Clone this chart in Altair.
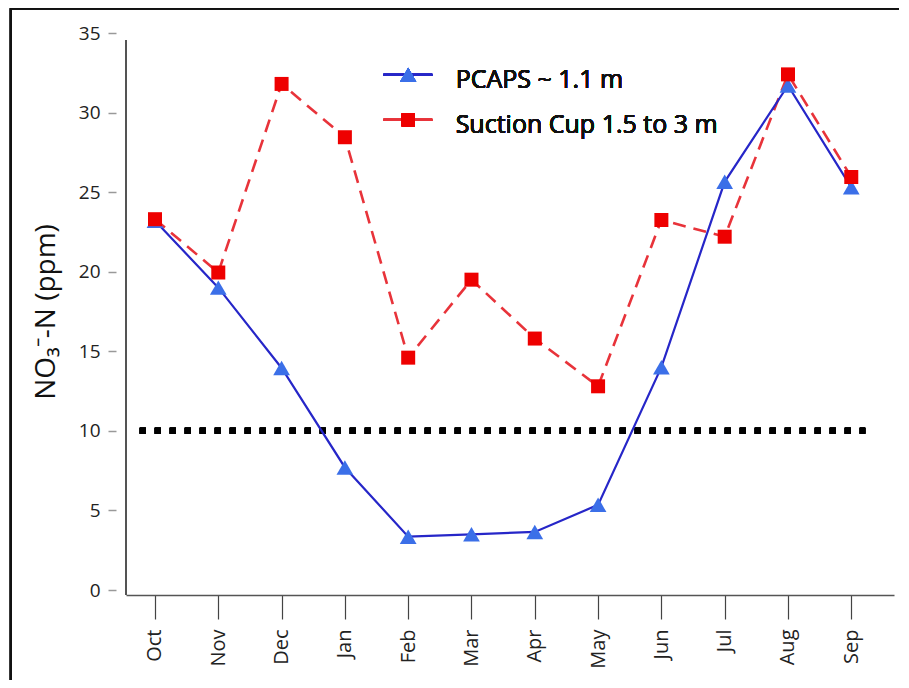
import altair as alt
import pandas as pd

# ---------------- data ----------------
months = ["Oct", "Nov", "Dec", "Jan", "Feb", "Mar", "Apr", "May", "Jun", "Jul", "Aug", "Sep"]
pcaps = [23.2, 19.0, 13.95, 7.7, 3.35, 3.5, 3.65, 5.35, 14.0, 25.65, 31.7, 25.3]
suction = [23.3, 19.95, 31.8, 28.45, 14.6, 19.5, 15.8, 12.8, 23.25, 22.2, 32.4, 25.95]
series_names = ["PCAPS ~ 1.1 m", "Suction Cup 1.5 to 3 m"]
threshold = 10

df = pd.DataFrame({"idx": list(range(len(months))), "month": months,
                   "pcaps": pcaps, "suction": suction})

# ---------------- layout constants ----------------
FONT = "Open Sans"
X_LO, X_HI = -0.458, 11.675
Y_LO, Y_HI = 0, 35
BLUE_LINE = "#2626C8"
BLUE_MARK = "#3B6FE8"
RED_LINE = "#E8333A"
RED_MARK = "#EE0000"

xscale = alt.Scale(domain=[X_LO, X_HI], nice=False, zero=False)
yscale = alt.Scale(domain=[Y_LO, Y_HI], nice=False, zero=False)

label_expr = "[" + ",".join("'%s'" % m for m in months) + "][datum.value]"

x_axis = alt.Axis(
    values=list(range(len(months))), labelExpr=label_expr, title=None, grid=False,
    offset=5, domain=True, domainColor="#555555", domainWidth=1.5,
    ticks=True, tickSize=24, tickColor="#444444", tickWidth=1.2,
    labelAngle=270, labelFontSize=20, labelFont=FONT, labelColor="#222222",
    labelPadding=10,
)
y_axis = alt.Axis(
    values=[0, 5, 10, 15, 20, 25, 30, 35], title="NO₃⁻-N (ppm)", grid=False,
    offset=10, domain=False, ticks=True, tickSize=8, tickColor="#999999", tickWidth=1.5,
    labelFontSize=19, labelFont=FONT, labelColor="#222222", labelPadding=8,
    titleFont=FONT, titleFontSize=28, titleFontWeight="normal", titleColor="#111111",
    titlePadding=18,
)


def XF(field):
    return alt.X(field, type="quantitative", scale=xscale, axis=x_axis)


def YF(field):
    return alt.Y(field, type="quantitative", scale=yscale, axis=y_axis)


def XD(v):
    return alt.XDatum(v, type="quantitative", scale=xscale, axis=x_axis)


def YD(v):
    return alt.YDatum(v, type="quantitative", scale=yscale, axis=y_axis)


base = alt.Chart(df)

# frame (top & left border of the figure)
frame_top = base.mark_rule(color="#111111", strokeWidth=1.6).encode(
    x=XD(-2.28), x2=alt.X2Datum(13.5), y=YD(36.55))
frame_left = base.mark_rule(color="#111111", strokeWidth=1.6).encode(
    x=XD(-2.28), y=YD(36.55), y2=alt.Y2Datum(-8))

# y axis line (drawn separately because ticks are offset from it)
y_domain = base.mark_rule(color="#555555", strokeWidth=1.5).encode(
    x=XD(X_LO), y=YD(34.55), y2=alt.Y2Datum(-0.31))

# threshold dotted line
thr = base.mark_rule(color="#000000", strokeWidth=6, strokeDash=[6, 9]).encode(
    x=XD(-0.24), x2=alt.X2Datum(11.22), y=YD(threshold))

red_line = base.mark_line(color=RED_LINE, strokeWidth=2.6, strokeDash=[13, 8]).encode(
    x=XF("idx"), y=YF("suction"))
blue_line = base.mark_line(color=BLUE_LINE, strokeWidth=2.2).encode(
    x=XF("idx"), y=YF("pcaps"))
blue_pts = base.mark_point(shape="triangle-up", filled=True, size=280, color=BLUE_MARK,
                           opacity=1).encode(x=XF("idx"), y=YF("pcaps"))
red_pts = base.mark_point(shape="square", filled=True, size=196, color=RED_MARK,
                          opacity=1).encode(x=XF("idx"), y=YF("suction"))

# legend (inside plot)
LEG_X0, LEG_X1, LEG_XM, LEG_XT = 3.61, 4.38, 4.0, 4.75
LEG_Y = [32.37, 29.54]
LEG_TY = [32.05, 29.2]
leg_layers = []
for name, ly, ty, lc, mc, shape, size in [
    (series_names[0], LEG_Y[0], LEG_TY[0], BLUE_LINE, BLUE_MARK, "triangle-up", 260),
    (series_names[1], LEG_Y[1], LEG_TY[1], RED_LINE, RED_MARK, "square", 170),
]:
    leg_layers.append(base.mark_rule(color=lc, strokeWidth=2.4).encode(
        x=XD(LEG_X0), x2=alt.X2Datum(LEG_X1), y=YD(ly)))
    leg_layers.append(base.mark_point(shape=shape, filled=True, size=size, color=mc,
                                      opacity=1).encode(x=XD(LEG_XM), y=YD(ly)))
    leg_layers.append(base.mark_text(text=name, align="left", baseline="middle",
                                     font=FONT, fontSize=25, color="#111111").encode(
        x=XD(LEG_XT), y=YD(ty)))

chart = alt.layer(
    frame_top, frame_left, y_domain, thr, red_line, blue_line, blue_pts, red_pts,
    *leg_layers
).properties(
    width=768, height=557,
    autosize=alt.AutoSizeParams(type="none"),
    padding={"left": 118, "top": 25, "right": 5, "bottom": 90},
    background="white",
).configure_view(stroke=None)

chart.save("out.html", embed_options={"renderer": "svg", "actions": False})
